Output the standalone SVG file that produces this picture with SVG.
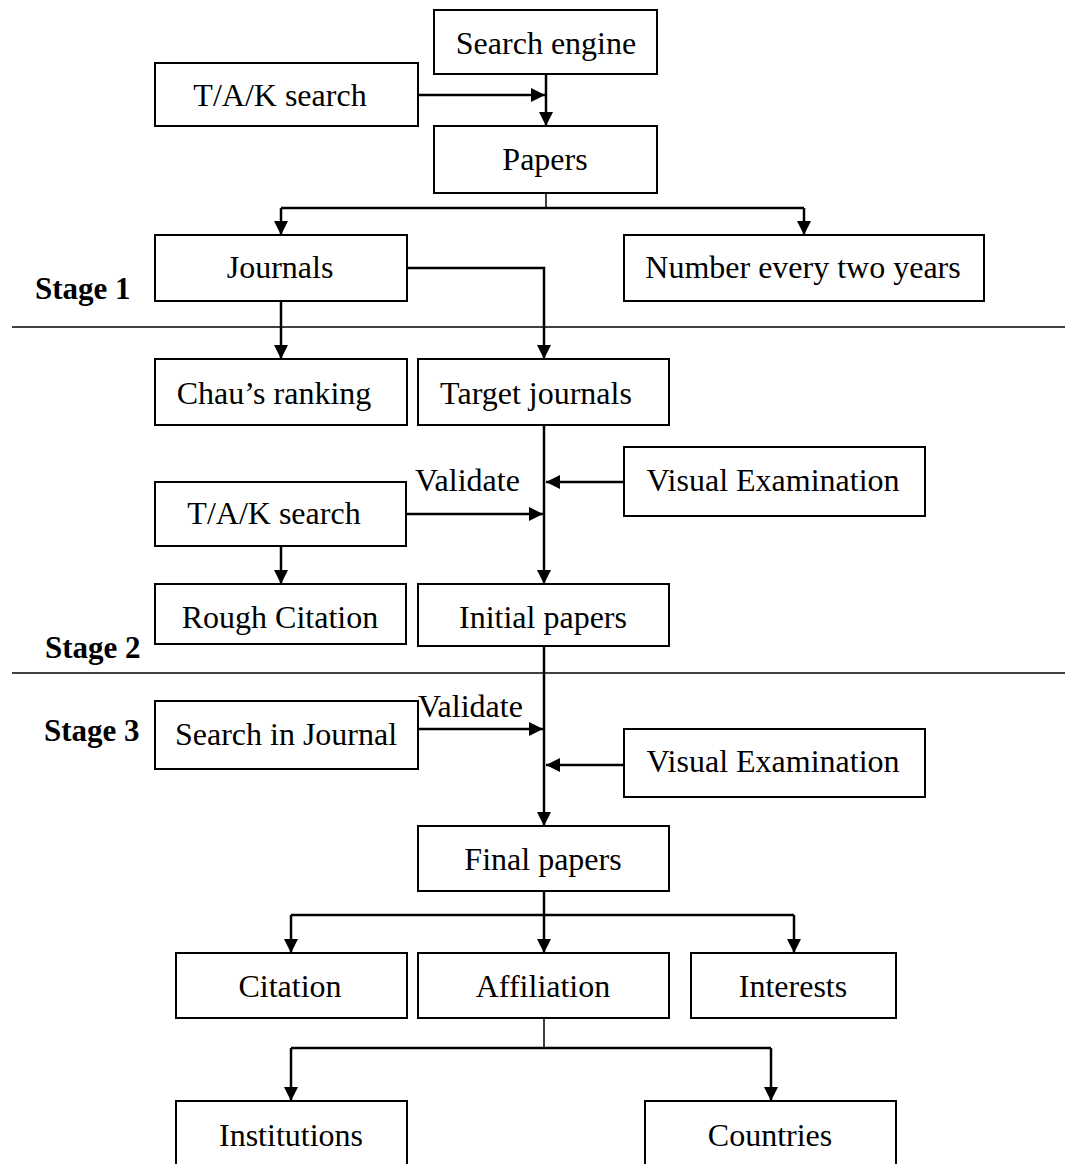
<svg xmlns="http://www.w3.org/2000/svg" width="1065" height="1164" viewBox="0 0 1065 1164">
<style>
.box{fill:#fff;stroke:#000;stroke-width:2}
.t{font-family:"Liberation Serif","Times New Roman",serif;font-size:32px;fill:#000;text-anchor:middle}
.lab{font-family:"Liberation Serif","Times New Roman",serif;font-size:32px;fill:#000}
.stage{font-family:"Liberation Serif","Times New Roman",serif;font-size:31px;font-weight:bold;fill:#000}
.c{fill:none;stroke:#000;stroke-width:2.5}
.thin{fill:none;stroke:#000;stroke-width:1.5}
.sep{fill:none;stroke:#000;stroke-width:1.5}
</style>
<defs>
<marker id="ah" markerUnits="userSpaceOnUse" markerWidth="14" markerHeight="14" viewBox="0 0 14 14" refX="14" refY="7" orient="auto">
<path d="M0,0 L14,7 L0,14 z" fill="#000"/>
</marker>
</defs>
<rect width="1065" height="1164" fill="#fff"/>
<g id="separators">
<line class="sep" x1="12" y1="327" x2="1065" y2="327"/>
<line class="sep" x1="12" y1="673" x2="1065" y2="673"/>
</g>
<g id="connectors">
<path class="c" d="M418,95 H545" marker-end="url(#ah)"/>
<path class="c" d="M546,74 V126" marker-end="url(#ah)"/>
<path class="thin" d="M546,193 V208"/>
<path class="c" d="M281,208 H804"/>
<path class="c" d="M281,208 V235" marker-end="url(#ah)"/>
<path class="c" d="M804,208 V235" marker-end="url(#ah)"/>
<path class="c" d="M407,268 H544 V359" marker-end="url(#ah)"/>
<path class="c" d="M281,301 V359" marker-end="url(#ah)"/>
<path class="c" d="M544,424 V584" marker-end="url(#ah)"/>
<path class="c" d="M624,482 H546" marker-end="url(#ah)"/>
<path class="c" d="M406,514 H543" marker-end="url(#ah)"/>
<path class="c" d="M281,546 V584" marker-end="url(#ah)"/>
<path class="c" d="M544,646 V826" marker-end="url(#ah)"/>
<path class="c" d="M418,729 H543" marker-end="url(#ah)"/>
<path class="c" d="M624,765 H546" marker-end="url(#ah)"/>
<path class="c" d="M544,891 V953" marker-end="url(#ah)"/>
<path class="c" d="M291,915 H794"/>
<path class="c" d="M291,915 V953" marker-end="url(#ah)"/>
<path class="c" d="M794,915 V953" marker-end="url(#ah)"/>
<path class="thin" d="M544,1018 V1048"/>
<path class="c" d="M291,1048 H771"/>
<path class="c" d="M291,1048 V1101" marker-end="url(#ah)"/>
<path class="c" d="M771,1048 V1101" marker-end="url(#ah)"/>
</g>
<g id="search-engine"><rect class="box" x="434" y="10" width="223" height="64"/><text class="t" x="546" y="54">Search engine</text></g>
<g id="tak-search-1"><rect class="box" x="155" y="63" width="263" height="63"/><text class="t" x="280" y="106">T/A/K search</text></g>
<g id="papers"><rect class="box" x="434" y="126" width="223" height="67"/><text class="t" x="545" y="170">Papers</text></g>
<g id="journals"><rect class="box" x="155" y="235" width="252" height="66"/><text class="t" x="280" y="278">Journals</text></g>
<g id="number"><rect class="box" x="624" y="235" width="360" height="66"/><text class="t" x="803" y="278">Number every two years</text></g>
<g id="chau"><rect class="box" x="155" y="359" width="252" height="66"/><text class="t" x="274" y="404">Chau’s ranking</text></g>
<g id="target"><rect class="box" x="418" y="359" width="251" height="66"/><text class="t" x="536" y="404">Target journals</text></g>
<g id="visual-1"><rect class="box" x="624" y="447" width="301" height="69"/><text class="t" x="773" y="491">Visual Examination</text></g>
<g id="tak-search-2"><rect class="box" x="155" y="482" width="251" height="64"/><text class="t" x="274" y="524">T/A/K search</text></g>
<g id="rough"><rect class="box" x="155" y="584" width="251" height="60"/><text class="t" x="280" y="628">Rough Citation</text></g>
<g id="initial"><rect class="box" x="418" y="584" width="251" height="62"/><text class="t" x="543" y="628">Initial papers</text></g>
<g id="search-journal"><rect class="box" x="155" y="701" width="263" height="68"/><text class="t" x="286" y="745">Search in Journal</text></g>
<g id="visual-2"><rect class="box" x="624" y="729" width="301" height="68"/><text class="t" x="773" y="772">Visual Examination</text></g>
<g id="final"><rect class="box" x="418" y="826" width="251" height="65"/><text class="t" x="543" y="870">Final papers</text></g>
<g id="citation"><rect class="box" x="176" y="953" width="231" height="65"/><text class="t" x="290" y="997">Citation</text></g>
<g id="affiliation"><rect class="box" x="418" y="953" width="251" height="65"/><text class="t" x="543" y="997">Affiliation</text></g>
<g id="interests"><rect class="box" x="691" y="953" width="205" height="65"/><text class="t" x="793" y="997">Interests</text></g>
<g id="institutions"><rect class="box" x="176" y="1101" width="231" height="70"/><text class="t" x="291" y="1146">Institutions</text></g>
<g id="countries"><rect class="box" x="645" y="1101" width="251" height="70"/><text class="t" x="770" y="1146">Countries</text></g>
<g id="labels">
<text class="lab" x="415" y="491">Validate</text>
<text class="lab" x="418" y="717">Validate</text>
<text class="stage" x="35" y="299">Stage 1</text>
<text class="stage" x="45" y="658">Stage 2</text>
<text class="stage" x="44" y="741">Stage 3</text>
</g>
</svg>
